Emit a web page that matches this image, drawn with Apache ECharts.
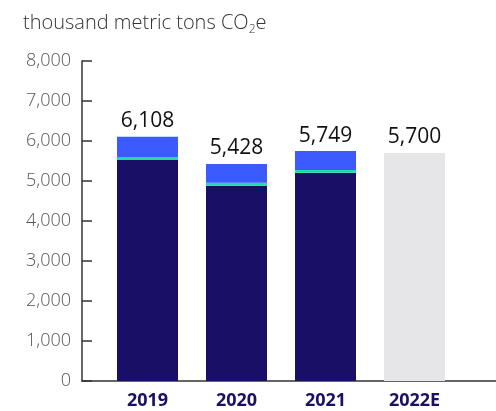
<!DOCTYPE html>
<html>
<head>
<meta charset="utf-8">
<script src="https://cdn.jsdelivr.net/npm/echarts@6/dist/echarts.min.js"></script>
<style>
html,body{margin:0;padding:0;background:#fff;}
#chart{width:496px;height:411px;}
</style>
</head>
<body>
<div id="chart"></div>
<script>
// Emissions by year, thousand metric tons CO2e
const years = ['2019', '2020', '2021', '2022E'];
const totals = [6108, 5428, 5749, null];
const baseValues = [5525, 4880, 5205, null];
const midValues = [75, 75, 70, null];
const estimate = [null, null, null, 5700];
const yTicks = [0, 1000, 2000, 3000, 4000, 5000, 6000, 7000, 8000];

const topValues = totals.map((t, i) => t == null ? null : t - baseValues[i] - midValues[i]);
const fmt = v => v.toLocaleString('en-US');
const font = '"Open Sans", sans-serif';

const chart = echarts.init(document.getElementById('chart'));
chart.setOption({
  animation: false,
  title: {
    text: 'thousand metric tons CO{sub|2}e',
    left: 18, top: 5,
    textStyle: {
      fontFamily: font, fontSize: 20, fontWeight: 300, color: '#333',
      rich: { sub: { fontFamily: font, fontSize: 12, fontWeight: 300, color: '#333', padding: [14, 0, 0, 0] } }
    }
  },
  grid: [
    { left: 103, width: 356, top: 61, height: 320 },
    { left: 82, right: 0, top: 61, height: 320 }
  ],
  xAxis: [
    {
      type: 'category', data: years, gridIndex: 0,
      axisLine: { show: false }, axisTick: { show: false },
      axisLabel: { fontFamily: font, fontSize: 18, fontWeight: 'bold', color: '#1a1066', margin: 11 }
    },
    {
      type: 'value', gridIndex: 1, min: 0, max: 1,
      axisLine: { show: true, lineStyle: { color: '#333', width: 1.5 } },
      axisTick: { show: false }, axisLabel: { show: false }, splitLine: { show: false }
    }
  ],
  yAxis: [
    {
      type: 'value', gridIndex: 0, min: yTicks[0], max: yTicks[yTicks.length - 1], interval: 1000,
      offset: 21,
      axisLine: { show: true, lineStyle: { color: '#333', width: 1.5 } },
      axisTick: { show: true, inside: true, length: 10, lineStyle: { color: '#333', width: 1.5 } },
      axisLabel: { fontFamily: font, fontSize: 18, fontWeight: 300, color: '#555', margin: 11, formatter: v => fmt(v) },
      splitLine: { show: false }
    },
    { type: 'value', gridIndex: 1, show: false, min: 0, max: 1 }
  ],
  series: [
    {
      type: 'bar', stack: 'e', data: baseValues, barWidth: 61,
      itemStyle: { color: '#190f66' }
    },
    {
      type: 'bar', stack: 'e', data: midValues, barWidth: 61,
      itemStyle: { color: '#19dfa7' }
    },
    {
      type: 'bar', stack: 'e', data: topValues, barWidth: 61,
      itemStyle: { color: '#3b5bff' },
      label: {
        show: true, position: 'top', distance: 5,
        fontFamily: font, fontSize: 21, fontWeight: 'normal', color: '#111',
        formatter: p => fmt(totals[p.dataIndex])
      }
    },
    {
      type: 'bar', stack: 'e', data: estimate, barWidth: 61,
      itemStyle: { color: '#e6e6e9' },
      label: {
        show: true, position: 'top', distance: 5,
        fontFamily: font, fontSize: 21, fontWeight: 'normal', color: '#111',
        formatter: p => fmt(p.value)
      }
    }
  ]
});
</script>
</body>
</html>
